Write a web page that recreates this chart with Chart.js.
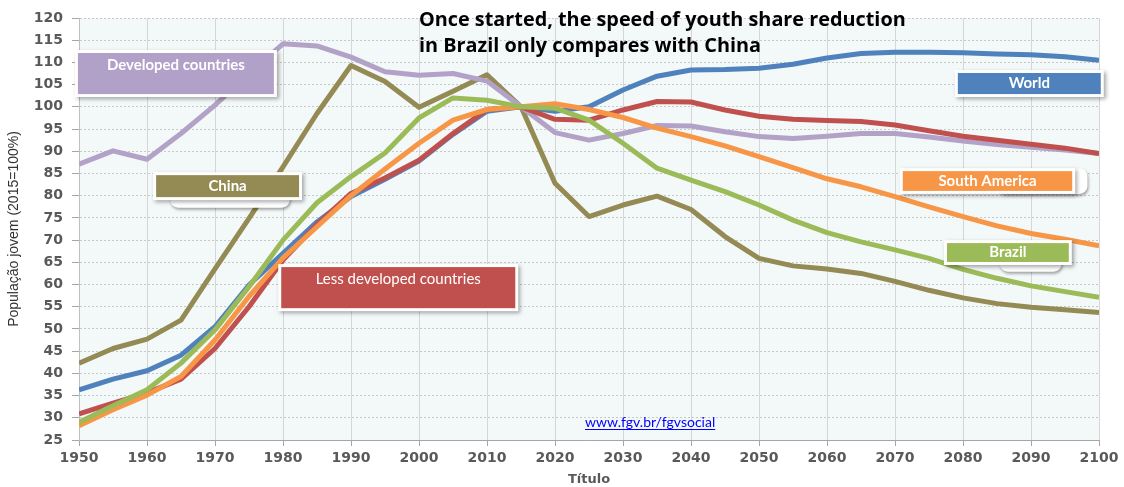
<!DOCTYPE html>
<html>
<head>
<meta charset="utf-8">
<script src="https://cdn.jsdelivr.net/npm/chart.js@4.4.0/dist/chart.umd.min.js"></script>
<style>
  html, body { margin: 0; padding: 0; background: #fff; }
  #wrap { width: 1124px; height: 487px; position: relative; }
</style>
</head>
<body>
<div id="wrap"><canvas id="lineChart"></canvas></div>
<script>
// values, 2015 = 100
var years = [1950, 1955, 1960, 1965, 1970, 1975, 1980, 1985, 1990, 1995, 2000, 2005, 2010, 2015, 2020, 2025,
             2030, 2035, 2040, 2045, 2050, 2055, 2060, 2065, 2070, 2075, 2080, 2085, 2090, 2095, 2100];

var world = [36.3, 38.7, 40.6, 44.1, 50.5, 59.9, 67.0, 74.1, 79.8, 83.7, 87.8, 93.8, 99.0, 100, 99.0, 100.0,
             103.8, 106.9, 108.3, 108.4, 108.7, 109.6, 111.0, 112.0, 112.3, 112.3, 112.2, 111.9, 111.7, 111.3, 110.5];
var lessDeveloped = [30.9, 33.3, 35.6, 38.7, 45.6, 55.0, 65.5, 73.5, 80.5, 84.0, 88.0, 94.0, 99.4, 100, 97.2, 97.0,
             99.3, 101.2, 101.1, 99.3, 97.9, 97.2, 96.9, 96.7, 95.9, 94.6, 93.4, 92.5, 91.6, 90.7, 89.5];
var developed = [87.1, 90.1, 88.2, 94.0, 100.4, 107.5, 114.2, 113.7, 111.2, 107.9, 107.1, 107.5, 105.8, 100, 94.2, 92.5,
             94.0, 95.8, 95.7, 94.4, 93.3, 92.9, 93.4, 94.0, 94.0, 93.2, 92.3, 91.5, 90.9, 90.3, 89.5];
var china = [42.3, 45.6, 47.7, 52.0, 63.5, 74.9, 86.5, 98.5, 109.3, 105.7, 99.9, 103.5, 107.2, 100, 82.8, 75.3,
             77.9, 79.9, 76.9, 70.8, 65.9, 64.2, 63.5, 62.5, 60.7, 58.7, 57.0, 55.7, 54.9, 54.3, 53.7];
var southAmerica = [28.2, 31.8, 35.1, 39.3, 47.5, 57.3, 66.0, 73.0, 80.0, 86.0, 91.8, 97.0, 99.4, 100, 100.7, 99.4,
             97.6, 95.2, 93.3, 91.2, 88.8, 86.3, 83.8, 82.0, 79.8, 77.5, 75.3, 73.2, 71.5, 70.2, 68.7];
var brazil = [29.0, 32.7, 36.3, 42.3, 49.8, 59.5, 70.0, 78.4, 84.3, 89.6, 97.5, 102.0, 101.5, 100, 99.7, 97.0,
             91.8, 86.2, 83.5, 80.9, 77.9, 74.5, 71.7, 69.6, 67.8, 65.9, 63.4, 61.4, 59.7, 58.4, 57.1];

var seriesNames = ['Brazil', 'South America', 'Less developed countries', 'World', 'Developed countries', 'China'];
var seriesData = [brazil, southAmerica, lessDeveloped, world, developed, china];
var seriesColors = ['#9BBB59', '#F79646', '#C0504D', '#4F81BD', '#B3A2C7', '#948A54'];

var titleLines = ['Once started, the speed of youth share reduction', 'in Brazil only compares with China'];
var yTitle = 'População jovem (2015=100%)';
var xTitle = 'Título';
var sourceLink = 'www.fgv.br/fgvsocial';

function points(vals) {
    return vals.map(function (v, i) { return { x: years[i], y: v }; });
}

// label boxes, in data units: [year1, year2, valueTop, valueBottom]
var boxes = [
    { text: 'Developed countries', color: '#B1A0C7', r: [1949.4, 1979.1, 112.8, 102.2], textAt: 109.4, weight: 'bold' },
    { text: 'China', color: '#948A54', r: [1960.9, 1982.8, 85.3, 79.0], weight: 'bold', under: [1963.4, 1981.0, 82.2, 77.3] },
    { text: 'Less developed countries', color: '#C0504D', r: [1979.3, 2014.6, 64.6, 54.0], textAt: 61.3, weight: 'normal' },
    { text: 'World', color: '#4F81BD', r: [2078.8, 2100.7, 108.3, 102.2], weight: 'bold' },
    { text: 'South America', color: '#F79646', r: [2070.7, 2096.5, 86.2, 80.4], weight: 'bold', under: [2085.0, 2098.3, 86.2, 80.4] },
    { text: 'Brazil', color: '#9BBB59', r: [2077.2, 2096.0, 70.0, 64.4], weight: 'bold', under: [2085.4, 2094.5, 67.8, 62.9] }
];

var decorations = {
    id: 'decorations',
    beforeDraw: function (chart) {
        var a = chart.chartArea, ctx = chart.ctx;
        ctx.save();
        ctx.fillStyle = '#F3F8F9';
        ctx.fillRect(a.left, a.top, a.right - a.left, a.bottom - a.top);
        ctx.restore();
    },
    afterDatasetsDraw: function (chart) {
        var ctx = chart.ctx, xs = chart.scales.x, ys = chart.scales.y;
        boxes.forEach(function (b) {
            var x1 = xs.getPixelForValue(b.r[0]), x2 = xs.getPixelForValue(b.r[1]);
            var y1 = ys.getPixelForValue(b.r[2]), y2 = ys.getPixelForValue(b.r[3]);
            ctx.save();
            if (b.under) {
                var u1 = xs.getPixelForValue(b.under[0]), u2 = xs.getPixelForValue(b.under[1]);
                var v1 = ys.getPixelForValue(b.under[2]), v2 = ys.getPixelForValue(b.under[3]);
                ctx.shadowColor = 'rgba(0,0,0,0.35)';
                ctx.shadowBlur = 3; ctx.shadowOffsetX = 1; ctx.shadowOffsetY = 2;
                ctx.fillStyle = '#fff';
                ctx.beginPath();
                ctx.roundRect(u1, v1, u2 - u1, v2 - v1, 8);
                ctx.fill();
            }
            ctx.shadowColor = 'rgba(0,0,0,0.35)';
            ctx.shadowBlur = 4; ctx.shadowOffsetX = 2; ctx.shadowOffsetY = 2;
            ctx.fillStyle = '#fff';
            ctx.fillRect(x1, y1, x2 - x1, y2 - y1);
            ctx.shadowColor = 'transparent';
            ctx.fillStyle = b.color;
            ctx.fillRect(x1 + 3, y1 + 3, x2 - x1 - 6, y2 - y1 - 6);
            ctx.fillStyle = '#fff';
            ctx.font = b.weight + ' 15px Lato';
            ctx.textAlign = 'center';
            ctx.textBaseline = 'middle';
            var ty = b.textAt ? ys.getPixelForValue(b.textAt) : (y1 + y2) / 2;
            ctx.fillText(b.text, (x1 + x2) / 2, ty);
            ctx.restore();
        });
    },
    afterDraw: function (chart) {
        var ctx = chart.ctx;
        ctx.save();
        ctx.fillStyle = '#000';
        // fit the heading to the width it has in the picture
        var size = 20;
        ctx.font = 'bold ' + size + 'px "Open Sans"';
        size = size * 487 / ctx.measureText(titleLines[0]).width;
        ctx.font = 'bold ' + size.toFixed(2) + 'px "Open Sans"';
        ctx.textAlign = 'left';
        ctx.textBaseline = 'alphabetic';
        ctx.fillText(titleLines[0], 419, 26);
        ctx.fillText(titleLines[1], 419, 52);

        ctx.font = '14px Lato';
        ctx.fillStyle = '#0000FF';
        ctx.fillText(sourceLink, 585, 427);
        var w = ctx.measureText(sourceLink).width;
        ctx.fillRect(585, 429, w, 1);
        ctx.restore();
    }
};

document.addEventListener('DOMContentLoaded', function () {
    var ctx = document.getElementById('lineChart').getContext('2d');

    var datasets = seriesNames.map(function (name, i) {
        return {
            label: name,
            data: points(seriesData[i]),
            borderColor: seriesColors[i],
            backgroundColor: seriesColors[i],
            borderWidth: 5,
            pointRadius: 0,
            tension: 0,
            fill: false,
            borderJoinStyle: 'round',
            order: i
        };
    });

    var myChart = new Chart(ctx, {
        type: 'line',
        data: { datasets: datasets },
        options: {
            responsive: true,
            maintainAspectRatio: false,
            animation: false,
            layout: { padding: { top: 18, right: 25, left: 0, bottom: 0 } },
            plugins: {
                legend: { display: false },
                tooltip: { enabled: false }
            },
            scales: {
                x: {
                    type: 'linear',
                    min: 1950,
                    max: 2100,
                    afterFit: function (s) { s.height = 47; },
                    ticks: {
                        stepSize: 10,
                        padding: 4,
                        maxRotation: 0,
                        autoSkip: false,
                        color: '#595959',
                        font: { family: 'DejaVu Sans', size: 14, weight: 'bold' },
                        callback: function (v) { return String(v); }
                    },
                    grid: { color: '#D6D6D6', tickLength: 6, tickColor: '#A6A6A6' },
                    border: { color: '#A6A6A6' },
                    title: {
                        display: true,
                        text: xTitle,
                        color: '#595959',
                        padding: { top: 2, bottom: 0 },
                        font: { family: 'DejaVu Sans', size: 13, weight: 'bold' }
                    }
                },
                y: {
                    min: 25,
                    max: 120,
                    afterFit: function (s) { s.width = 79; },
                    ticks: {
                        stepSize: 5,
                        padding: 9,
                        color: '#595959',
                        font: { family: 'DejaVu Sans', size: 14, weight: 'bold' }
                    },
                    grid: { color: '#C8C8C8', tickLength: 7, tickColor: '#A6A6A6', tickBorderDash: [] },
                    border: { color: '#BFBFBF', dash: [2, 2] },
                    title: {
                        display: true,
                        text: yTitle,
                        color: '#333',
                        padding: { top: 6, bottom: 0 },
                        font: { family: 'Liberation Sans', size: 14 }
                    }
                }
            }
        },
        plugins: [decorations]
    });
});
</script>
</body>
</html>
